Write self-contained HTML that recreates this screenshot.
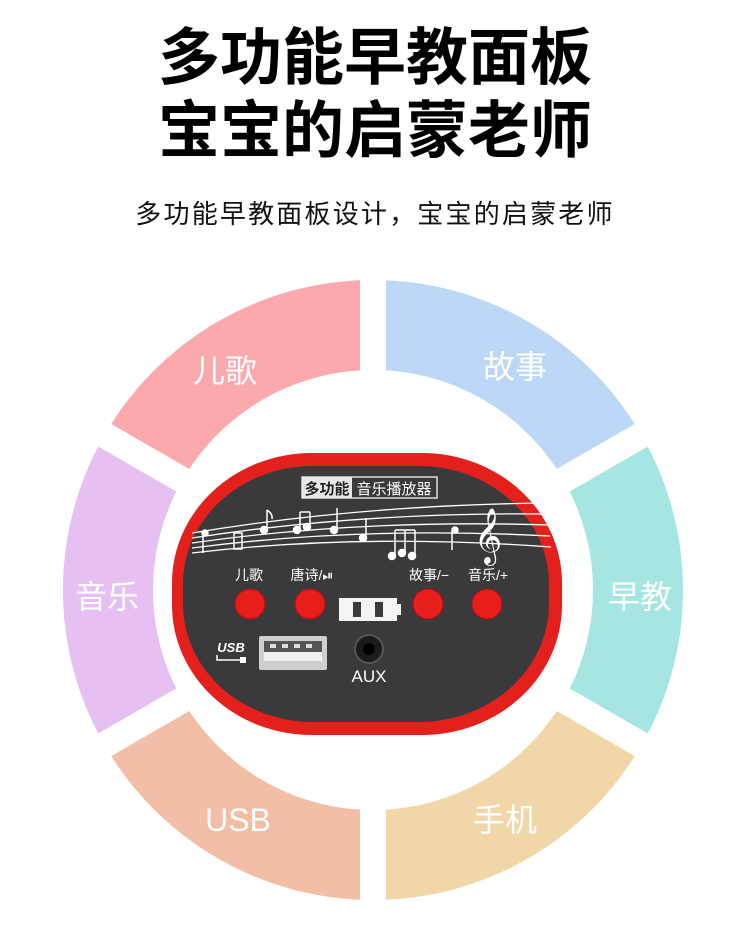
<!DOCTYPE html>
<html><head><meta charset="utf-8"><style>
body{margin:0;width:750px;height:942px;background:#fff;overflow:hidden;position:relative;font-family:"Liberation Sans","Noto Sans CJK SC",sans-serif}
.t{position:absolute;left:0;width:750px;text-align:center;color:#000;font-weight:bold;font-size:62px;line-height:62px}
.sub{position:absolute;left:0;width:750px;text-align:center;font-size:26px;letter-spacing:2.2px;top:194px;color:#111}
</style></head><body>
<div class="t" style="top:28px">多功能早教面板</div>
<div class="t" style="top:101px">宝宝的启蒙老师</div>
<div class="sub">多功能早教面板设计，宝宝的启蒙老师</div>
<svg width="750" height="942" style="position:absolute;left:0;top:0">
<g>
<path d="M373 280 A310 310 0 0 1 641.5 435 L563.5 480 A220 220 0 0 0 373 370Z" fill="#bcd8f6"/>
<path d="M641.5 435 A310 310 0 0 1 641.5 745 L563.5 700 A220 220 0 0 0 563.5 480Z" fill="#a6e6e2"/>
<path d="M641.5 745 A310 310 0 0 1 373 900 L373 810 A220 220 0 0 0 563.5 700Z" fill="#f1d7a8"/>
<path d="M373 900 A310 310 0 0 1 104.5 745 L182.5 700 A220 220 0 0 0 373 810Z" fill="#f2bea6"/>
<path d="M104.5 745 A310 310 0 0 1 104.5 435 L182.5 480 A220 220 0 0 0 182.5 700Z" fill="#e6c0f2"/>
<path d="M104.5 435 A310 310 0 0 1 373 280 L373 370 A220 220 0 0 0 182.5 480Z" fill="#fba9ac"/>
</g>
<g stroke="#fff" stroke-width="26">
<line x1="373" y1="260" x2="373" y2="920"/>
<line x1="87" y1="425" x2="659" y2="755"/>
<line x1="87" y1="755" x2="659" y2="425"/>
</g>
<g fill="#fff" font-size="32" text-anchor="middle" font-family="Liberation Sans,Noto Sans CJK SC,sans-serif">
<text x="225" y="382">儿歌</text>
<text x="515" y="378">故事</text>
<text x="107" y="608">音乐</text>
<text x="640" y="608">早教</text>
<text x="238" y="831">USB</text>
<text x="505" y="831">手机</text>
</g>
<rect x="172" y="453" width="390" height="282" rx="140" ry="130" fill="#e3201b"/>
<rect x="183" y="466" width="366" height="256" rx="130" ry="118" fill="#3a3a3c"/>
<rect x="302" y="477" width="135" height="21" fill="#3a3a3c" stroke="#ddd" stroke-width="1.5"/>
<rect x="302" y="477" width="50" height="21" fill="#e8e8e8"/>
<text x="327" y="494" font-size="15" text-anchor="middle" fill="#222" font-weight="bold">多功能</text>
<text x="394" y="494" font-size="15" text-anchor="middle" fill="#fff">音乐播放器</text>
<g stroke="#fff" stroke-width="1.3" fill="none">
<path d="M192 533 Q360 505 548 503"/>
<path d="M192 538 Q360 512 548 514"/>
<path d="M192 543 Q360 519 549 525"/>
<path d="M192 548 Q360 526 550 536"/>
<path d="M192 553 Q360 533 551 547"/>
</g>
<g stroke="#fff" stroke-width="1.5" fill="#fff">
<line x1="203" y1="533" x2="203" y2="553"/><circle cx="205" cy="533" r="3"/>
<rect x="234" y="533" width="8" height="16" fill="none"/>
<line x1="267" y1="510" x2="267" y2="530"/><circle cx="264" cy="530" r="3.5"/><path d="M267 510 q6 4 5 9" fill="none"/>
<line x1="300" y1="512" x2="300" y2="530"/><line x1="310" y1="512" x2="310" y2="527"/><line x1="300" y1="512" x2="310" y2="512"/><circle cx="297" cy="530" r="3.5"/><circle cx="307" cy="527" r="3.5"/>
<line x1="337" y1="508" x2="337" y2="530"/><circle cx="334" cy="530" r="3.5"/>
<line x1="366" y1="518" x2="366" y2="538"/><circle cx="363" cy="538" r="3.5"/>
<line x1="395" y1="530" x2="395" y2="555"/><line x1="405" y1="530" x2="405" y2="552"/><line x1="415" y1="530" x2="415" y2="555"/><line x1="395" y1="530" x2="415" y2="530"/><circle cx="392" cy="556" r="3.5"/><circle cx="402" cy="553" r="3.5"/><circle cx="412" cy="556" r="3.5"/>
<line x1="452" y1="530" x2="452" y2="550"/><circle cx="455" cy="530" r="3"/>
</g>
<text x="488" y="552" font-size="48" fill="#fff" text-anchor="middle" font-family="DejaVu Sans">𝄞</text>
<g fill="#fff" font-size="14" text-anchor="middle">
<text x="249" y="580">儿歌</text>
<text x="312" y="580">唐诗/⏯</text>
<text x="429" y="580">故事/−</text>
<text x="488" y="580">音乐/+</text>
</g>
<g fill="#ea1d1d" stroke="#b01010" stroke-width="1">
<circle cx="250" cy="604" r="15"/><circle cx="310" cy="604" r="15"/><circle cx="428" cy="604" r="15"/><circle cx="487" cy="604" r="15"/>
</g>
<rect x="339" y="598" width="58" height="23" fill="#f4f4f4"/>
<rect x="397" y="604" width="4" height="11" fill="#f4f4f4"/>
<rect x="353" y="602" width="8" height="15" fill="#3a3a3c"/>
<rect x="375" y="602" width="8" height="15" fill="#3a3a3c"/>
<text x="231" y="652" font-size="13" font-style="italic" font-weight="bold" fill="#fff" text-anchor="middle">USB</text>
<path d="M217 655 L217 660 L240 660" stroke="#fff" stroke-width="1.5" fill="none"/>
<rect x="240" y="657" width="6" height="6" fill="#fff"/>
<rect x="259" y="636" width="68" height="34" rx="2" fill="#cfcfcf"/>
<rect x="264" y="641" width="58" height="20" fill="#555"/>
<rect x="264" y="652" width="58" height="9" fill="#f0f0f0"/>
<g fill="#ddd"><rect x="270" y="644" width="6" height="4"/><rect x="282" y="644" width="6" height="4"/><rect x="294" y="644" width="6" height="4"/><rect x="306" y="644" width="6" height="4"/></g>
<circle cx="369" cy="649" r="14" fill="#1c1c1c" stroke="#555" stroke-width="2"/>
<circle cx="369" cy="649" r="6" fill="#000"/>
<text x="369" y="682" font-size="17" fill="#fff" text-anchor="middle">AUX</text>
</svg>
</body></html>
